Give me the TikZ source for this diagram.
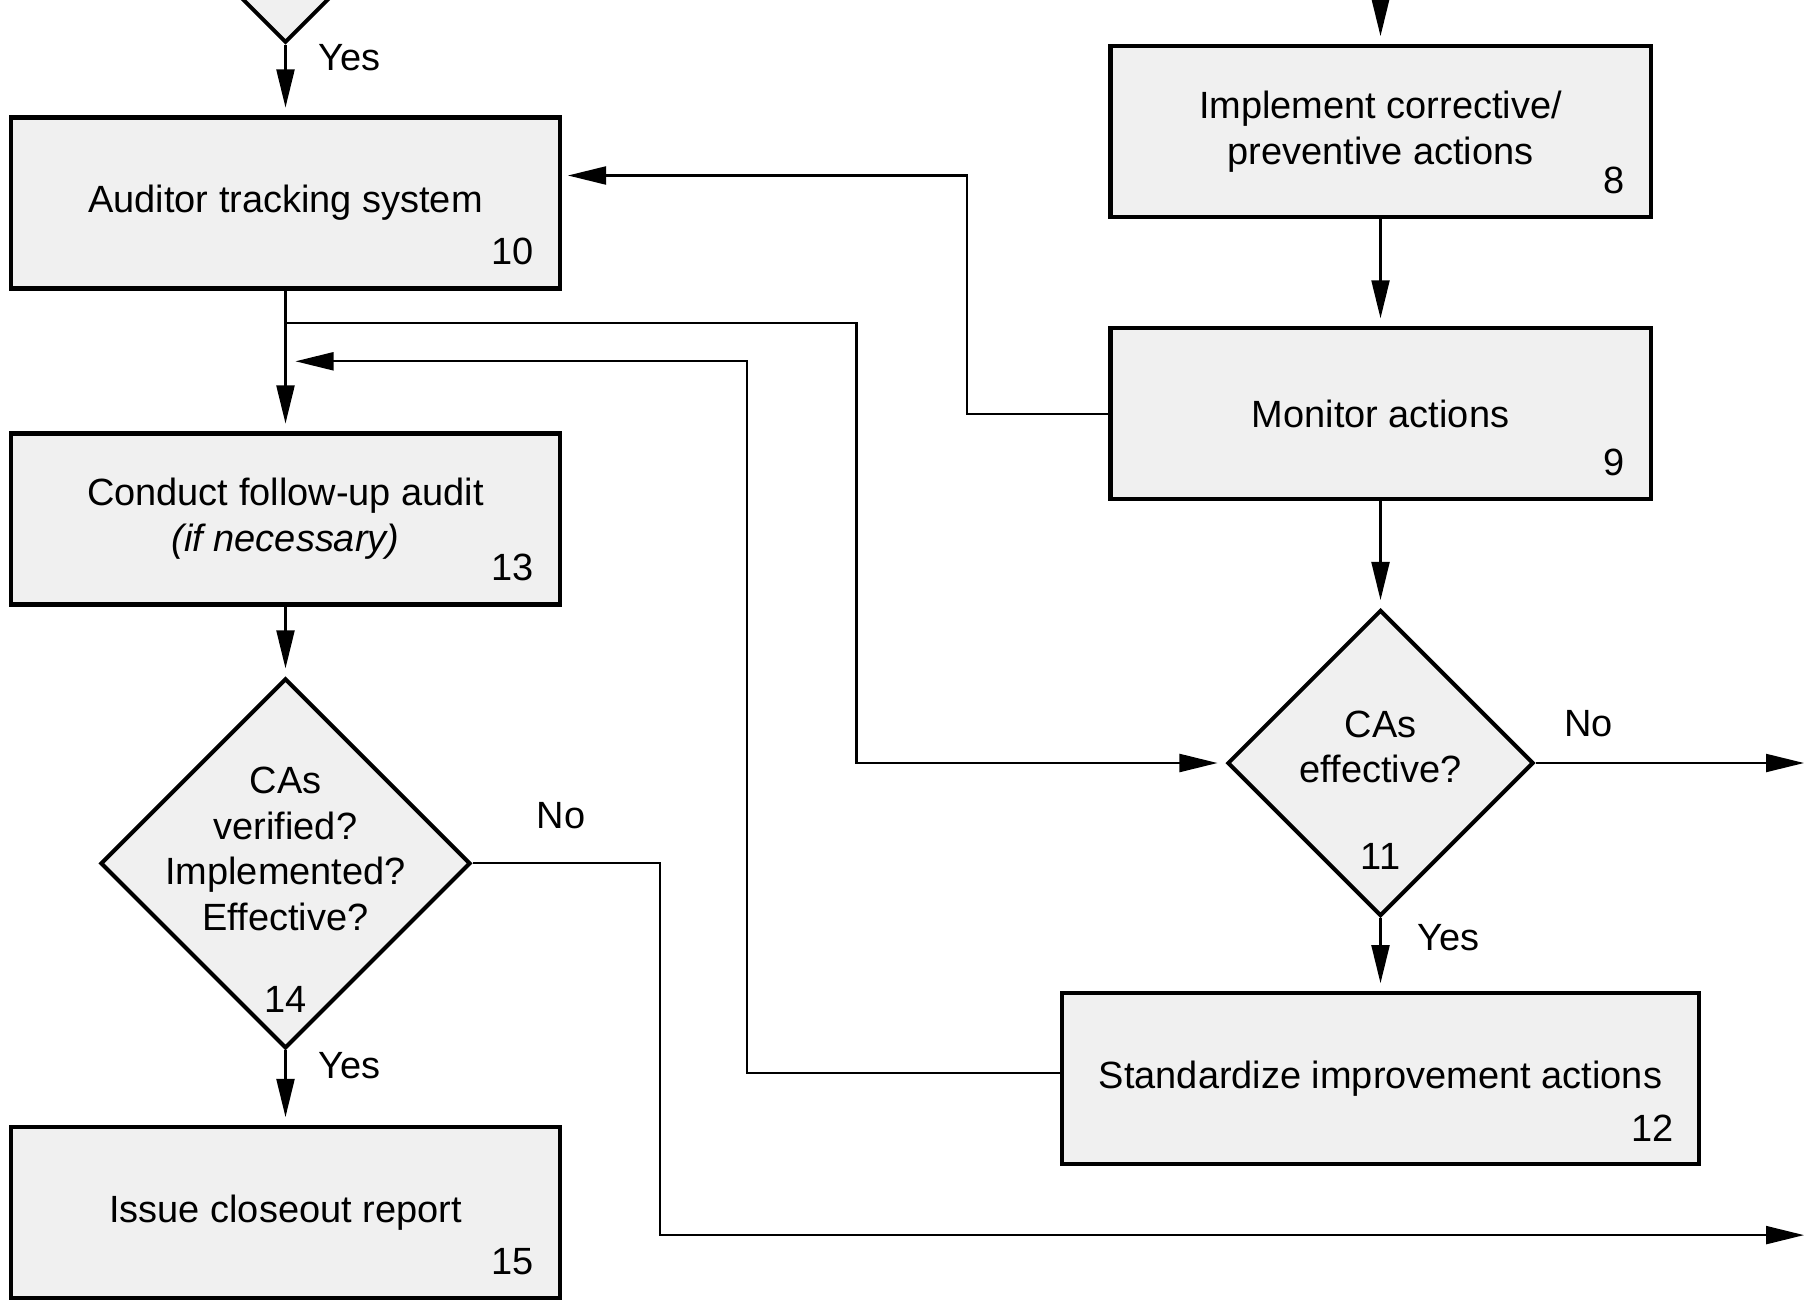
\documentclass[tikz,border=0pt]{standalone}
\usepackage{fontspec}
\setmainfont{Liberation Sans}
\usetikzlibrary{shapes.geometric,arrows.meta,positioning}

\begin{document}
\begin{tikzpicture}[
    font=\fontsize{10.8}{13}\selectfont,
    box/.style={draw, line width=1.15pt, fill=black!6, minimum height=1.71cm, align=center},
    dia/.style={draw, line width=1.15pt, fill=black!6, diamond, aspect=1, inner sep=0pt},
    num/.style={inner sep=0pt},
    conn/.style={line width=0.6pt},
    arr/.style={conn, -{Triangle[length=0.38cm, width=0.18cm]}, shorten >=0.08cm}]
      \useasboundingbox (0,0) rectangle (18.1,-12.99);
      \clip (0,0) rectangle (18.1,-12.99);

      % left column
      \node[dia, minimum size=3.7cm] (prev) at (2.855,1.423) {};
      \node[box, minimum width=5.485cm] (b10) at (2.855,-2.03)   {Auditor tracking system};
      \node[box, minimum width=5.485cm] (b13) at (2.855,-5.19)   {Conduct follow-up audit\\\textit{(if necessary)}};
      \node[dia, minimum size=3.7cm]    (d14) at (2.855,-8.634)  {};
      \node[box, minimum width=5.485cm] (b15) at (2.855,-12.125) {Issue closeout report};
      \node[align=center] (t14) at (2.855,-8.49) {CAs\\verified?\\Implemented?\\Effective?};

      % right column
      \node[box, minimum width=5.40cm] (b8)  at (13.805,-1.316)  {Implement corrective/\\preventive actions};
      \node[box, minimum width=5.40cm] (b9)  at (13.805,-4.138)  {Monitor actions};
      \node[dia, minimum size=3.06cm]  (d11) at (13.805,-7.63)   {};
      \node[box, minimum width=6.37cm] (b12) at (13.805,-10.787) {Standardize improvement actions};
      \node[align=center] (t11) at (13.805,-7.47) {CAs\\effective?};

      % step numbers
      \node[num, above left=0.245cm and 0.27cm of b10.south east] (n10) {10};
      \node[num, above left=0.245cm and 0.27cm of b13.south east] (n13) {13};
      \node[num, above left=0.245cm and 0.27cm of b15.south east] (n15) {15};
      \node[num, above left=0.245cm and 0.27cm of b8.south east]  (n8)  {8};
      \node[num, above left=0.245cm and 0.27cm of b9.south east]  (n9)  {9};
      \node[num, above left=0.245cm and 0.27cm of b12.south east] (n12) {12};
      \node[num, above=0.375cm of d14.south] (n14) {14};
      \node[num, above=0.475cm of d11.south] (n11) {11};

      % branch labels
      \node (yes7)  at (3.498,-0.577)  {Yes};
      \node (yes14) at (3.498,-10.654) {Yes};
      \node (no14)  at (5.61,-8.16)    {No};
      \node (yes11) at (14.487,-9.373) {Yes};
      \node (no11)  at (15.883,-7.237) {No};

      % free ends and bends
      \coordinate (top8)  at (13.805,0);
      \coordinate (split) at (2.855,-3.232);
      \coordinate (c1)    at (8.565,-3.232);
      \coordinate (c2)    at (7.468,-3.613);
      \coordinate (ret)   at (2.875,-3.613);
      \coordinate (c3)    at (9.673,-1.755);
      \coordinate (in10)  at (5.60,-1.755);
      \coordinate (c4)    at (6.603,-12.351);
      \coordinate (out14) at (18.04,-12.351);
      \coordinate (out11) at (18.04,-7.63);

      \draw[arr] (prev.south) -- (b10.north);
      \draw[arr] (b10.south) -- (b13.north);
      \draw[arr] (b13.south) -- (d14.north);
      \draw[arr] (d14.south) -- (b15.north);
      \draw[arr] (top8) -- (b8.north);
      \draw[arr] (b8.south) -- (b9.north);
      \draw[arr] (b9.south) -- (d11.north);
      \draw[arr] (d11.south) -- (b12.north);

      \draw[arr] (split) -- (c1) |- (d11.west);           % 10 -> 11
      \draw[arr] ([yshift=0.06cm]b12.west) -| (c2) -- (ret); % 12 -> back to 13
      \draw[arr] (b9.west) -| (c3) -- (in10);              % 9 -> 10
      \draw[arr, shorten >=0pt] (d14.east) -| (c4) -- (out14);
      \draw[arr, shorten >=0pt] (d11.east) -- (out11);
    \end{tikzpicture}
\end{document}
